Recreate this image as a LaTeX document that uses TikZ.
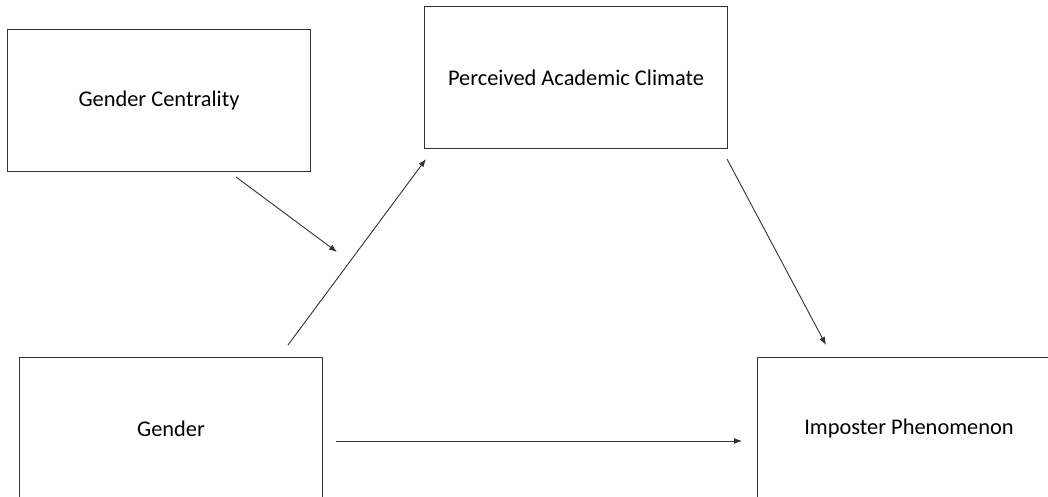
\documentclass[tikz,border=0pt]{standalone}
\usepackage{fontspec}
\setmainfont{Carlito}
\usetikzlibrary{arrows.meta}
\begin{document}
\begin{tikzpicture}[x=1pt,y=-1pt,
  box/.style={draw=black!80,line width=1pt,minimum width=303pt,minimum height=142pt,inner sep=0pt,anchor=north west,font=\fontsize{22.4}{26}\selectfont,text=black},
  arr/.style={draw=black!80,line width=0.9pt,-{Latex[length=8pt,width=6pt]}}]
\useasboundingbox (0,0) rectangle (1048,497);
\clip (0,0) rectangle (1048,497);
\node[box] (gc) at (7,29) {Gender Centrality};
\node[box] (pac) at (424,6) {Perceived Academic Climate};
\node[box] (g) at (19,357) {Gender};
\node[box] (ip) at (757,357) {Imposter Phenomenon};
\coordinate (a1) at (236,177);
\coordinate (a2) at (337,252);
\coordinate (b1) at (288,345);
\coordinate (b2) at (426,159);
\coordinate (c1) at (727,159);
\coordinate (c2) at (826,345);
\coordinate (d1) at (336,441);
\coordinate (d2) at (742,441);
\draw[arr] (a1) -- (a2);
\draw[arr] (b1) -- (b2);
\draw[arr] (c1) -- (c2);
\draw[arr] (d1) -- (d2);
\end{tikzpicture}
\end{document}
